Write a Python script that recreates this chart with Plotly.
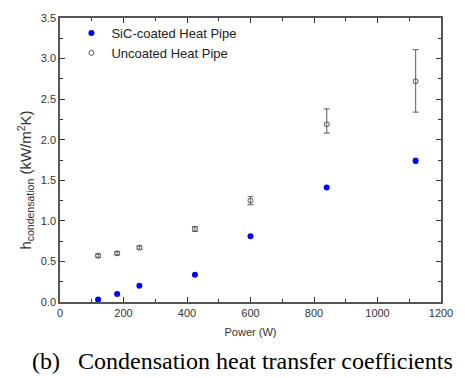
import plotly.graph_objects as go

power = [120, 180, 250, 425, 600, 840, 1120]
sic_h = [0.03, 0.10, 0.20, 0.335, 0.81, 1.41, 1.74]
sic_err = [0.01, 0.01, 0.01, 0.01, 0.01, 0.01, 0.03]
unc_h = [0.57, 0.60, 0.67, 0.90, 1.25, 2.19, 2.72]
unc_err_plus = [0.02, 0.02, 0.02, 0.03, 0.05, 0.19, 0.39]
unc_err_minus = [0.02, 0.02, 0.02, 0.03, 0.05, 0.11, 0.38]

x_ticks = [0, 200, 400, 600, 800, 1000, 1200]
y_ticks = [0.0, 0.5, 1.0, 1.5, 2.0, 2.5, 3.0, 3.5]

fig = go.Figure()
fig.add_trace(go.Scatter(
    x=power, y=sic_h, mode="markers", name="SiC-coated Heat Pipe",
    marker=dict(symbol="circle", size=6, color="#0000ff"),
    error_y=dict(type="data", array=sic_err, color="#0000ff", thickness=1, width=2),
))
fig.add_trace(go.Scatter(
    x=power, y=unc_h, mode="markers", name="Uncoated Heat Pipe",
    marker=dict(symbol="circle-open", size=5, color="#555555", line=dict(width=1)),
    error_y=dict(type="data", symmetric=False, array=unc_err_plus, arrayminus=unc_err_minus,
                 color="#777777", thickness=1.2, width=3),
))

axis_common = dict(
    showline=True, linecolor="#555555", linewidth=1.5, mirror="allticks",
    ticks="inside", ticklen=5, tickwidth=1, tickcolor="#333333",
    showgrid=False, zeroline=False,
    tickfont=dict(family="Liberation Sans, Arial", size=11, color="#333333"),
)

fig.update_xaxes(
    range=[0, 1200], tickvals=x_ticks, ticktext=[str(v) for v in x_ticks],
    minor=dict(ticks="inside", ticklen=3, dtick=100, tickcolor="#333333", showgrid=False),
    title=dict(text="Power (W)", font=dict(family="Liberation Sans, Arial", size=11, color="#333333"), standoff=10),
    **axis_common,
)
fig.update_yaxes(
    range=[0, 3.5], tickvals=y_ticks, ticktext=[f"{v:.1f}" for v in y_ticks],
    minor=dict(ticks="inside", ticklen=3, dtick=0.25, tickcolor="#333333", showgrid=False),
    **axis_common,
)

fig.add_annotation(
    text="h<sub>condensation</sub> (kW/m<sup>2</sup>K)", textangle=-90,
    xref="paper", yref="paper", x=-0.09, y=0.43, xanchor="center", yanchor="middle",
    showarrow=False, font=dict(family="Liberation Sans, Arial", size=15, color="#333333"),
)
fig.add_annotation(
    text="(b)   Condensation heat transfer coefficients",
    xref="paper", yref="paper", x=0.478, y=-0.2076, xanchor="center", yanchor="middle",
    showarrow=False, font=dict(family="Liberation Serif, Times New Roman", size=24, color="#000000"),
)

fig.update_layout(
    width=465, height=378,
    margin=dict(l=60, r=16, t=13, b=76),
    paper_bgcolor="white", plot_bgcolor="white",
    showlegend=True,
    legend=dict(x=0.03, y=1.0, xanchor="left", yanchor="top", bgcolor="rgba(0,0,0,0)",
                font=dict(family="Liberation Sans, Arial", size=13, color="#222222"),
                tracegroupgap=0),
)

fig.write_html("out.html")
